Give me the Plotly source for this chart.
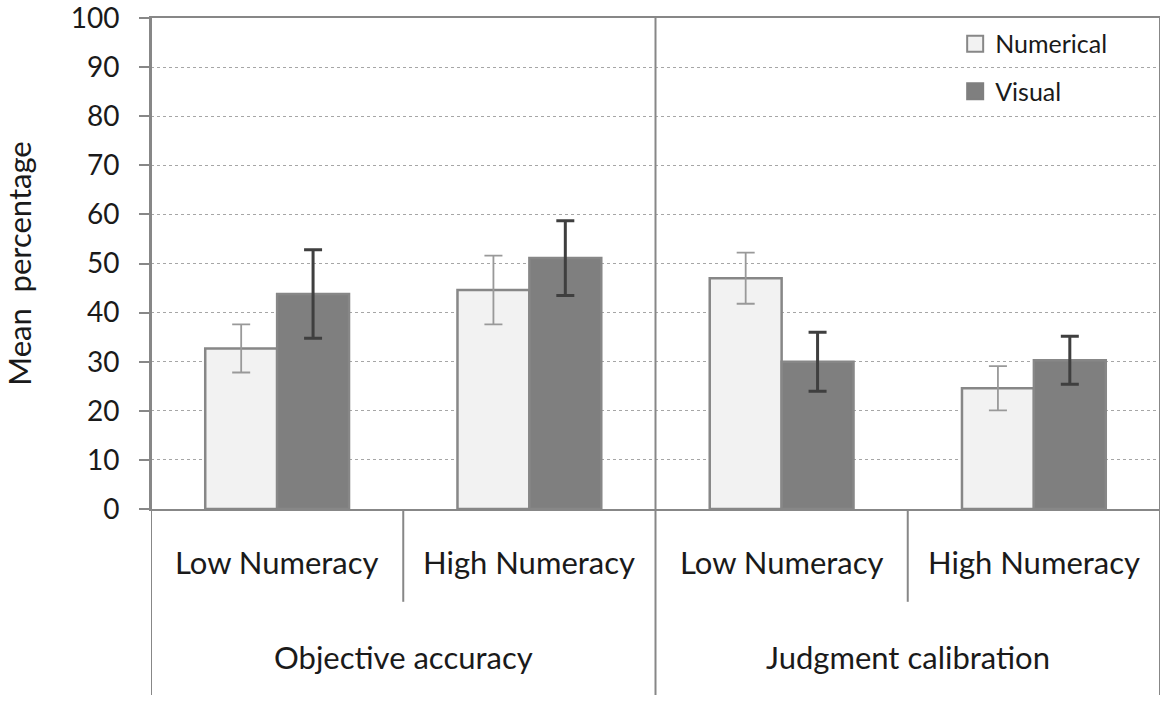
import plotly.graph_objects as go

# data
groups = ["Objective accuracy", "Objective accuracy", "Judgment calibration", "Judgment calibration"]
levels = ["Low Numeracy", "High Numeracy", "Low Numeracy", "High Numeracy"]
numerical = [32.7, 44.6, 47.0, 24.6]
numerical_err = [4.9, 7.0, 5.2, 4.5]
visual = [43.8, 51.1, 30.0, 30.3]
visual_err = [9.0, 7.6, 6.0, 4.9]
y_ticks = [0, 10, 20, 30, 40, 50, 60, 70, 80, 90, 100]

FONT = "Lato"
LINE = "#878787"
TXT = "#1a1a1a"
NUM_FILL = "#f2f2f2"
VIS_FILL = "#7f7f7f"
cats = [g + " | " + l for g, l in zip(groups, levels)]

fig = go.Figure()
fig.add_trace(go.Bar(
    x=cats, y=numerical, name="Numerical", showlegend=False,
    marker=dict(color=NUM_FILL, line=dict(color=LINE, width=2.5)),
    error_y=dict(type="data", array=numerical_err, color="#999999", thickness=1.8, width=9),
))
fig.add_trace(go.Bar(
    x=cats, y=visual, name="Visual", showlegend=False,
    marker=dict(color=VIS_FILL, line=dict(color=LINE, width=2.5)),
    error_y=dict(type="data", array=visual_err, color="#3f3f3f", thickness=3, width=9),
))
# legend keys with bigger squares
fig.add_trace(go.Scatter(x=[None], y=[None], mode="markers", name="Numerical", legendgroup="a",
                         marker=dict(symbol="square", size=16, color=NUM_FILL,
                                     line=dict(color=LINE, width=2))))
fig.add_trace(go.Scatter(x=[None], y=[None], mode="markers", name="Visual", legendgroup="b",
                         marker=dict(symbol="square", size=16, color=VIS_FILL,
                                     line=dict(color=VIS_FILL, width=2))))

# category labels under the axis
for i, l in enumerate(levels):
    fig.add_annotation(x=i, y=-0.108, xref="x", yref="paper", yanchor="middle", text=l,
                       showarrow=False, font=dict(size=31, color=TXT, family=FONT))
outer = []
for g in groups:
    if g not in outer:
        outer.append(g)
for k, g in enumerate(outer):
    fig.add_annotation(x=2 * k + 0.5, y=-0.301, xref="x", yref="paper", yanchor="middle", text=g,
                       showarrow=False, font=dict(size=31, color=TXT, family=FONT))

# divider lines
for xv in [-0.5, 1.5, 3.5]:
    fig.add_shape(type="line", xref="x", yref="paper", x0=xv, x1=xv, y0=1, y1=-0.379,
                  line=dict(color=LINE, width=2))
for xv in [0.5, 2.5]:
    fig.add_shape(type="line", xref="x", yref="paper", x0=xv, x1=xv, y0=0, y1=-0.189,
                  line=dict(color=LINE, width=2))

fig.update_layout(
    width=1170, height=703,
    margin=dict(l=151, r=10, t=18, b=194, autoexpand=False),
    paper_bgcolor="white", plot_bgcolor="white",
    barmode="group", bargap=0.43, bargroupgap=0,
    font=dict(family=FONT, size=24, color=TXT),
    showlegend=True,
    legend=dict(x=0.797, y=0.994, xanchor="left", yanchor="top", bgcolor="rgba(0,0,0,0)",
                font=dict(size=25), tracegroupgap=12, itemwidth=30),
    xaxis=dict(showticklabels=False, showline=True, linecolor=LINE, linewidth=2,
               mirror=True, showgrid=False, range=[-0.5, 3.5], automargin=False),
    yaxis=dict(range=[0, 100], tickvals=y_ticks, showline=True, linecolor=LINE, linewidth=2,
               ticks="outside", ticklen=10, tickcolor=LINE, tickwidth=2, ticklabelstandoff=14,
               ticklabeloverflow="allow",
               showgrid=True, gridcolor="#a6a6a6", griddash="dot", gridwidth=1,
               tickfont=dict(size=28), zeroline=False, automargin=False,
               title=dict(text="Mean  percentage", font=dict(size=31), standoff=50)),
)

fig.write_html("out.html", config=dict(displayModeBar=False),
               post_script="document.body.style.margin='0';")
